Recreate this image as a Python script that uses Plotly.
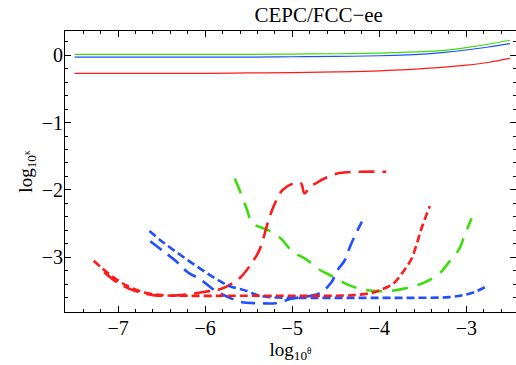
import plotly.graph_objects as go

# Solid curves
xs = [-7.5, -7.0, -6.5, -6.0, -5.5, -5.0, -4.5, -4.0, -3.75, -3.5, -3.25, -3.0, -2.75, -2.5]
green_solid = [0.01, 0.01, 0.01, 0.01, 0.01, 0.015, 0.02, 0.03, 0.04, 0.05, 0.07, 0.11, 0.16, 0.22]
blue_solid = [-0.03, -0.03, -0.03, -0.03, -0.03, -0.025, -0.02, -0.01, 0.0, 0.015, 0.04, 0.075, 0.12, 0.17]
red_solid = [-0.27, -0.27, -0.27, -0.27, -0.265, -0.26, -0.25, -0.235, -0.22, -0.2, -0.18, -0.15, -0.11, -0.05]

# Red short dash
rs_x = [-7.28, -7.1, -6.9, -6.7, -6.5, -6.2, -5.8, -5.4, -5.0, -4.6, -4.3, -4.1, -4.0, -3.84, -3.73, -3.63, -3.57, -3.51, -3.42]
rs_y = [-3.05, -3.25, -3.42, -3.52, -3.56, -3.57, -3.57, -3.57, -3.57, -3.57, -3.56, -3.53, -3.49, -3.39, -3.22, -3.02, -2.8, -2.55, -2.24]

# Red long dash
rl_x = [-7.16, -7.0, -6.8, -6.6, -6.4, -6.2, -6.0, -5.85, -5.75, -5.59, -5.48, -5.38, -5.27, -5.21, -5.11, -4.98, -4.9, -4.86, -4.79, -4.7, -4.63, -4.46, -4.2, -3.92]
rl_y = [-3.22, -3.38, -3.5, -3.56, -3.57, -3.55, -3.51, -3.48, -3.43, -3.29, -3.11, -2.9, -2.44, -2.23, -2.0, -1.9, -1.9, -2.05, -1.95, -1.88, -1.83, -1.75, -1.73, -1.73]

# Blue short dash
bs_x = [-6.64, -6.5, -6.3, -6.1, -5.9, -5.73, -5.52, -5.37, -5.1, -4.8, -4.4, -4.0, -3.6, -3.2, -3.0, -2.88, -2.77]
bs_y = [-2.61, -2.76, -2.95, -3.13, -3.3, -3.42, -3.5, -3.57, -3.6, -3.6, -3.6, -3.6, -3.6, -3.59, -3.55, -3.5, -3.43]

# Blue long dash
bl_x = [-6.63, -6.48, -6.34, -6.2, -6.05, -5.9, -5.75, -5.59, -5.36, -5.19, -5.0, -4.83, -4.67, -4.55, -4.48, -4.4, -4.33, -4.25, -4.2]
bl_y = [-2.76, -2.91, -3.05, -3.22, -3.33, -3.48, -3.58, -3.66, -3.68, -3.68, -3.61, -3.58, -3.52, -3.37, -3.19, -3.05, -2.82, -2.6, -2.47]

# Green long dash
gl_x = [-5.66, -5.59, -5.52, -5.46, -5.27, -5.13, -5.0, -4.85, -4.69, -4.54, -4.37, -4.21, -4.02, -3.83, -3.64, -3.48, -3.31, -3.2, -3.08, -3.02, -2.94]
gl_y = [-1.83, -2.05, -2.29, -2.49, -2.6, -2.72, -2.91, -3.02, -3.18, -3.28, -3.4, -3.47, -3.5, -3.49, -3.44, -3.37, -3.24, -3.07, -2.87, -2.67, -2.42]

x_ticks = [-7, -6, -5, -4, -3]
y_ticks = [0, -1, -2, -3]

RED = "#ff1a1a"
GREEN = "#3cdc0a"
BLUE = "#1f4fff"
SHORT = "8px,4px"
LONG = "16px,8px"

SERIF = "Liberation Serif, Times New Roman, serif"

fig = go.Figure()
fig.add_trace(go.Scatter(x=xs, y=red_solid, mode="lines", line=dict(color=RED, width=1.2, shape="spline")))
fig.add_trace(go.Scatter(x=xs, y=blue_solid, mode="lines", line=dict(color=BLUE, width=1.2, shape="spline")))
fig.add_trace(go.Scatter(x=xs, y=green_solid, mode="lines", line=dict(color=GREEN, width=1.2, shape="spline")))

fig.add_trace(go.Scatter(x=gl_x, y=gl_y, mode="lines", line=dict(color=GREEN, width=2.6, dash="16px,10px", shape="spline")))
fig.add_trace(go.Scatter(x=bl_x, y=bl_y, mode="lines", line=dict(color=BLUE, width=2.6, dash="14px,8px", shape="spline")))
fig.add_trace(go.Scatter(x=rl_x, y=rl_y, mode="lines", line=dict(color=RED, width=2.6, dash=LONG, shape="spline")))
fig.add_trace(go.Scatter(x=bs_x, y=bs_y, mode="lines", line=dict(color=BLUE, width=2.6, dash=SHORT, shape="spline")))
fig.add_trace(go.Scatter(x=rs_x, y=rs_y, mode="lines", line=dict(color=RED, width=2.6, dash=SHORT, shape="spline")))

tick_font = dict(family=SERIF, size=20, color="black")
label_font = dict(family=SERIF, size=19, color="black")

fig.update_layout(
    width=516, height=365,
    margin=dict(l=65, r=0, t=31, b=53, autoexpand=False),
    paper_bgcolor="white", plot_bgcolor="white",
    showlegend=False,
    font=tick_font,
    title=dict(text="CEPC/FCC−ee", x=0.5625, xanchor="center", xref="paper",
               y=1 - 15 / 365, yanchor="middle", yref="container",
               font=dict(family=SERIF, size=21, color="black")),
)

fig.update_xaxes(
    range=[-7.61, -2.43], tickvals=x_ticks, ticks="inside", ticklen=6, tickwidth=1,
    tickcolor="black", showline=True, linecolor="black", linewidth=1, mirror="ticks",
    showgrid=False, zeroline=False, tickfont=tick_font, automargin=False,
    ticklabelstandoff=-2,
    minor=dict(dtick=0.2, tick0=0, ticks="inside", ticklen=3, tickcolor="black", showgrid=False),
    title=dict(text="log<sub>10<sup>θ</sup></sub>", font=label_font, standoff=4),
)
fig.update_yaxes(
    range=[-3.81, 0.357], tickvals=y_ticks, ticks="inside", ticklen=6, tickwidth=1,
    tickcolor="black", showline=True, linecolor="black", linewidth=1, mirror="ticks",
    showgrid=False, zeroline=False, tickfont=tick_font, automargin=False,
    ticklabelstandoff=-3,
    minor=dict(dtick=0.2, tick0=0, ticks="inside", ticklen=3, tickcolor="black", showgrid=False),
    title=dict(text="log<sub>10<sup>κ</sup></sub>", font=label_font, standoff=4),
)

fig.write_html("out.html", config={"displayModeBar": False},
               post_script="document.body.style.margin='0px';document.body.style.overflow='hidden';")
